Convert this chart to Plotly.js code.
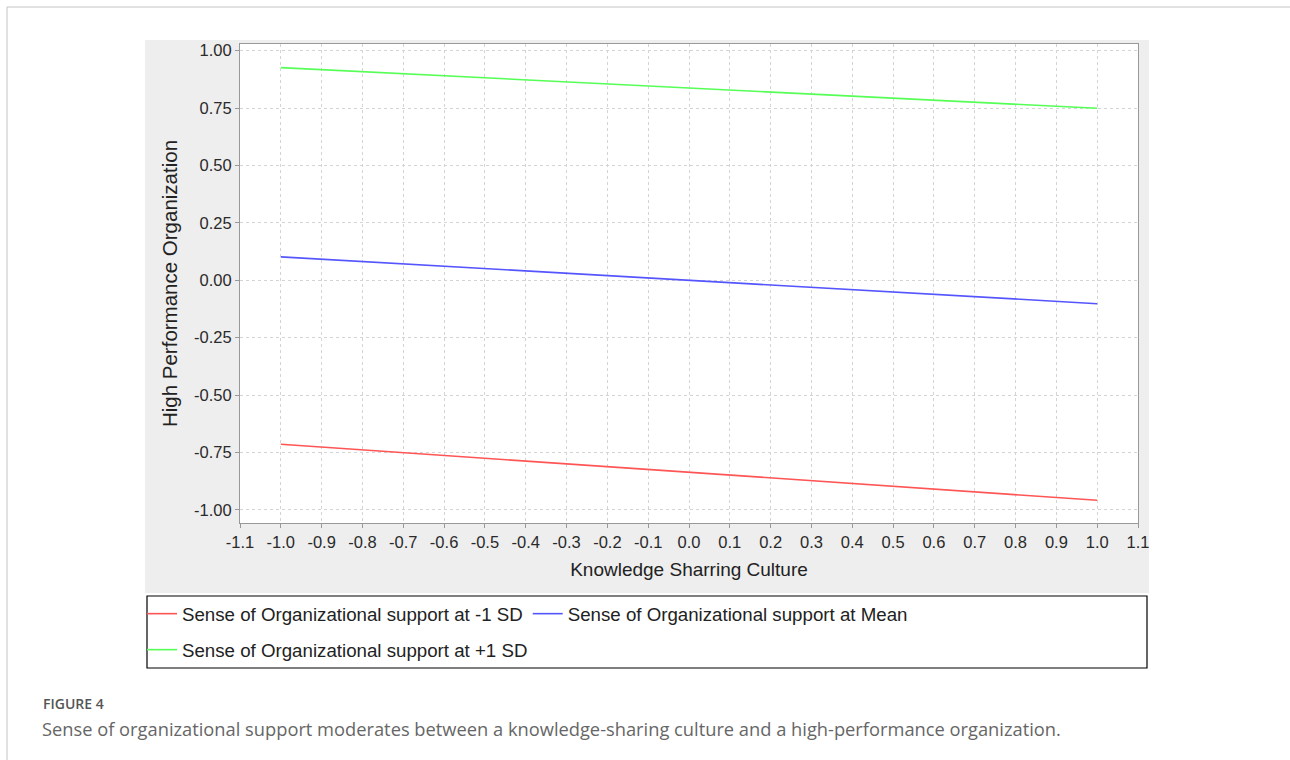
<!DOCTYPE html>
<html>
<head>
<meta charset="utf-8">
<script src="https://cdn.plot.ly/plotly-3.0.1.min.js"></script>
<style>
html,body{margin:0;padding:0;background:#fff;}
#chart{width:1290px;height:760px;}
</style>
</head>
<body>
<div id="chart"></div>
<script>
// ---- data ----
const xValues = [-1.0, 1.0];
const seriesNames = [
  "Sense of Organizational support at -1 SD",
  "Sense of Organizational support at Mean",
  "Sense of Organizational support at +1 SD"
];
const lowSD = [-0.714, -0.958];
const meanSD = [0.102, -0.102];
const highSD = [0.926, 0.749];
const xTickVals = [-1.1,-1.0,-0.9,-0.8,-0.7,-0.6,-0.5,-0.4,-0.3,-0.2,-0.1,0.0,0.1,0.2,0.3,0.4,0.5,0.6,0.7,0.8,0.9,1.0,1.1];
const xTickText = ["-1.1","-1.0","-0.9","-0.8","-0.7","-0.6","-0.5","-0.4","-0.3","-0.2","-0.1","0.0","0.1","0.2","0.3","0.4","0.5","0.6","0.7","0.8","0.9","1.0","1.1"];
const yTickVals = [-1.0,-0.75,-0.5,-0.25,0.0,0.25,0.5,0.75,1.0];
const yTickText = ["-1.00","-0.75","-0.50","-0.25","0.00","0.25","0.50","0.75","1.00"];
const xTitle = "Knowledge Sharring Culture";
const yTitle = "High Performance Organization";
const figLabel = "FIGURE 4";
const caption = "Sense of organizational support moderates between a knowledge-sharing culture and a high-performance organization.";

// ---- layout geometry (pixels) ----
const W = 1290, H = 760;
const L = 240, R = 1138, T = 44, B = 523;
const pw = R - L, ph = B - T;
const px = v => (v - L) / pw;
const py = v => (B - v) / ph;

const colors = ["rgb(255,85,85)", "rgb(85,85,255)", "rgb(85,255,85)"];
const ys = [lowSD, meanSD, highSD];
const legendIds = ["legend", "legend", "legend2"];

const traces = ys.map((y, i) => ({
  type: "scatter",
  mode: "lines",
  x: xValues,
  y: y,
  name: seriesNames[i],
  line: {color: colors[i], width: 1.6},
  legend: legendIds[i],
  hoverinfo: "x+y+name"
}));

const tickFont = {family: "Liberation Sans, Arial, sans-serif", size: 16.5, color: "#2a2a2a"};
const xTitleFont = {family: "Liberation Sans, Arial, sans-serif", size: 19, color: "#222"};
const yTitleFont = {family: "Liberation Sans, Arial, sans-serif", size: 20.5, color: "#222"};
const legFont = {family: "Liberation Sans, Arial, sans-serif", size: 18.7, color: "#222"};

const layout = {
  width: W, height: H,
  margin: {l: L, r: W - R, t: T, b: H - B, pad: 0},
  paper_bgcolor: "#ffffff",
  plot_bgcolor: "#ffffff",
  showlegend: true,
  xaxis: {
    range: [-1.1, 1.1],
    tickmode: "array", tickvals: xTickVals, ticktext: xTickText,
    tickfont: tickFont,
    ticks: "outside", ticklen: 4, tickcolor: "#999", tickwidth: 1,
    showline: true, linecolor: "#999", linewidth: 1, mirror: true,
    showgrid: true, gridcolor: "#d4d4d4", gridwidth: 1, griddash: "3px,3px",
    zeroline: false,
    title: {text: xTitle, font: xTitleFont, standoff: 12},
    automargin: true
  },
  yaxis: {
    range: [-1.057, 1.029],
    tickmode: "array", tickvals: yTickVals, ticktext: yTickText,
    tickfont: tickFont,
    ticks: "outside", ticklen: 4, tickcolor: "#999", tickwidth: 1,
    showline: true, linecolor: "#999", linewidth: 1, mirror: true,
    showgrid: true, gridcolor: "#d4d4d4", gridwidth: 1, griddash: "3px,3px",
    zeroline: false,
    title: {text: yTitle, font: yTitleFont, standoff: 10},
    automargin: true
  },
  legend: {
    orientation: "h",
    x: px(142), xanchor: "left",
    y: py(614), yanchor: "middle",
    bgcolor: "rgba(0,0,0,0)", borderwidth: 0,
    font: legFont,
    itemwidth: 30
  },
  legend2: {
    orientation: "h",
    x: px(142), xanchor: "left",
    y: py(650), yanchor: "middle",
    bgcolor: "rgba(0,0,0,0)", borderwidth: 0,
    font: legFont,
    itemwidth: 30
  },
  shapes: [
    // outer page frame
    {type: "rect", xref: "paper", yref: "paper", layer: "below",
     x0: px(7), x1: px(1310), y0: py(800), y1: py(7),
     line: {color: "#c4c4c4", width: 1}, fillcolor: "rgba(0,0,0,0)"},
    // gray chart panel
    {type: "rect", xref: "paper", yref: "paper", layer: "below",
     x0: px(145), x1: px(1149), y0: py(593), y1: py(40),
     line: {width: 0}, fillcolor: "#eeeeee"},
    // white plotting area
    {type: "rect", xref: "paper", yref: "paper", layer: "below",
     x0: 0, x1: 1, y0: 0, y1: 1,
     line: {width: 0}, fillcolor: "#ffffff"},
    // legend box
    {type: "rect", xref: "paper", yref: "paper", layer: "below",
     x0: px(147), x1: px(1147), y0: py(668), y1: py(596),
     line: {color: "#000", width: 1.2}, fillcolor: "#ffffff"}
  ],
  annotations: [
    {xref: "paper", yref: "paper", x: px(41), y: py(703), xanchor: "left", yanchor: "middle",
     text: figLabel, showarrow: false,
     font: {family: "Open Sans, Lato, sans-serif", size: 14, weight: 600, color: "#555"}},
    {xref: "paper", yref: "paper", x: px(40), y: py(728), xanchor: "left", yanchor: "middle",
     text: caption, showarrow: false,
     font: {family: "Open Sans, Lato, sans-serif", size: 18.3, color: "#666"}}
  ]
};

Plotly.newPlot("chart", traces, layout, {displayModeBar: false});
</script>
</body>
</html>
